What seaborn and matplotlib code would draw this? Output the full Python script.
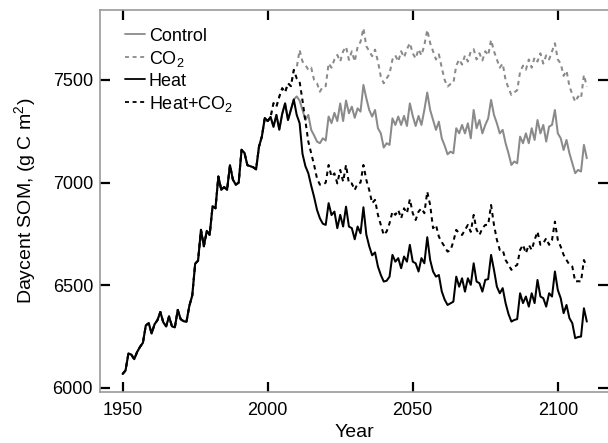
import matplotlib
matplotlib.use("Agg")
import matplotlib.pyplot as plt
import seaborn as sns
import pandas as pd
import numpy as np

# shared history 1950-2009 (all treatments)
hist_years = list(range(1950, 2010))
hist = [6068, 6085, 6168, 6162, 6140, 6175, 6200, 6220, 6305, 6315,
        6265, 6310, 6330, 6370, 6320, 6300, 6348, 6300, 6295, 6380,
        6335, 6325, 6322, 6400, 6450, 6605, 6620, 6770, 6690, 6765,
        6745, 6885, 6875, 7030, 6965, 6978, 6965, 7085, 7015, 6990,
        7000, 7160, 7145, 7085, 7080, 7075, 7065, 7175, 7225, 7315,
        7300, 7320, 7272, 7330, 7258, 7335, 7386, 7305, 7355, 7405]
# elevated CO2 history 2002-2009 (CO2 and Heat+CO2 share it)
co2_hist = [7387, 7370, 7419, 7460, 7440, 7484, 7470, 7549]

# 2010-2110
fut_years = list(range(2010, 2111))
control = [7420, 7400, 7354, 7305, 7330, 7257, 7230, 7200, 7192, 7216,
           7205, 7322, 7290, 7340, 7300, 7386, 7300, 7400, 7338, 7370,
           7316, 7362, 7346, 7476, 7411, 7354, 7322, 7354, 7265, 7240,
           7171, 7192, 7184, 7313, 7281, 7322, 7281, 7325, 7276, 7386,
           7325, 7276, 7325, 7281, 7354, 7439, 7354, 7305, 7257, 7297,
           7216, 7180, 7138, 7151, 7143, 7265, 7240, 7281, 7240, 7289,
           7216, 7354, 7265, 7305, 7240, 7281, 7313, 7403, 7330, 7289,
           7240, 7257, 7192, 7143, 7086, 7103, 7094, 7224, 7192, 7240,
           7192, 7265, 7208, 7305, 7240, 7281, 7200, 7273, 7281, 7354,
           7240, 7216, 7159, 7208, 7143, 7094, 7046, 7062, 7054, 7184,
           7119]
co2 = [7560, 7646, 7590, 7574, 7549, 7560, 7500, 7484, 7443, 7468,
       7470, 7581, 7560, 7600, 7622, 7590, 7640, 7662, 7598, 7640,
       7590, 7662, 7686, 7752, 7665, 7640, 7616, 7648, 7590, 7516,
       7484, 7508, 7530, 7600, 7620, 7590, 7640, 7610, 7650, 7680,
       7630, 7605, 7650, 7620, 7670, 7744, 7680, 7640, 7600, 7625,
       7560, 7500, 7468, 7480, 7485, 7570, 7600, 7575, 7620, 7590,
       7640, 7650, 7600, 7630, 7595, 7640, 7620, 7695, 7640, 7600,
       7560, 7580, 7500, 7460, 7427, 7440, 7450, 7540, 7570, 7550,
       7600, 7560, 7610, 7590, 7630, 7580, 7620, 7600, 7640, 7679,
       7600, 7580, 7520, 7545, 7470, 7430, 7394, 7420, 7410, 7525,
       7468]
heat = [7330, 7290, 7140, 7080, 7046, 6985, 6930, 6867, 6826, 6800,
        6794, 6900, 6842, 6859, 6778, 6843, 6786, 6883, 6786, 6778,
        6724, 6786, 6753, 6880, 6747, 6690, 6646, 6660, 6591, 6550,
        6518, 6522, 6542, 6648, 6615, 6632, 6583, 6640, 6615, 6697,
        6615, 6607, 6567, 6632, 6607, 6734, 6623, 6567, 6542, 6550,
        6470, 6430, 6404, 6412, 6420, 6542, 6493, 6534, 6469, 6534,
        6502, 6607, 6518, 6510, 6469, 6526, 6530, 6648, 6575, 6493,
        6461, 6486, 6413, 6360, 6323, 6331, 6335, 6461, 6413, 6445,
        6396, 6461, 6413, 6526, 6445, 6437, 6396, 6461, 6445, 6567,
        6477, 6437, 6364, 6404, 6340, 6315, 6242, 6248, 6250, 6388,
        6323]
heat_co2 = [7508, 7492, 7400, 7300, 7200, 7143, 7086, 7020, 6990, 6989,
            7000, 7086, 7029, 7045, 6996, 7062, 7005, 7086, 6996, 6996,
            6964, 6996, 7000, 7086, 7013, 6964, 6900, 6916, 6843, 6794,
            6745, 6762, 6802, 6859, 6843, 6867, 6826, 6875, 6851, 6919,
            6851, 6818, 6859, 6875, 6851, 6956, 6891, 6778, 6794, 6737,
            6710, 6688, 6664, 6670, 6713, 6770, 6753, 6745, 6770, 6794,
            6760, 6843, 6770, 6745, 6778, 6794, 6794, 6891, 6794, 6721,
            6672, 6672, 6623, 6600, 6575, 6590, 6599, 6672, 6697, 6656,
            6697, 6672, 6721, 6761, 6697, 6705, 6729, 6697, 6720, 6810,
            6721, 6688, 6648, 6623, 6600, 6591, 6518, 6520, 6518, 6623,
            6591]

labels = ["Control", "CO$_2$", "Heat", "Heat+CO$_2$"]

years = hist_years + fut_years
series = {
    labels[0]: hist + control,
    labels[1]: hist[:52] + co2_hist + co2,
    labels[2]: hist + heat,
    labels[3]: hist[:52] + co2_hist + heat_co2,
}
df = pd.concat([pd.DataFrame({"Year": years, "SOM": v, "Treatment": k})
                for k, v in series.items()], ignore_index=True)

sns.set_style("ticks")
plt.rcParams["font.family"] = ["Liberation Sans", "DejaVu Sans"]
plt.rcParams["mathtext.fontset"] = "custom"
plt.rcParams["mathtext.rm"] = "Liberation Sans"
plt.rcParams["text.color"] = "black"
plt.rcParams["axes.labelcolor"] = "black"
plt.rcParams["xtick.labelcolor"] = "black"
plt.rcParams["ytick.labelcolor"] = "black"

grey = "#8a8a8a"
palette = {labels[0]: grey, labels[1]: grey, labels[2]: "black", labels[3]: "black"}
dashes = {labels[0]: "", labels[1]: (2.2, 2.0), labels[2]: "", labels[3]: (2.2, 2.0)}

fig = plt.figure(figsize=(6.08, 4.43), dpi=100)
ax = fig.add_axes([100 / 608, 1 - 392 / 443, 508 / 608, 382 / 443])
sns.lineplot(data=df, x="Year", y="SOM", hue="Treatment", style="Treatment",
             palette=palette, dashes=dashes, linewidth=1.45, ax=ax,
             hue_order=labels, style_order=labels)

ax.set_xlim(1942.2, 2117.3)
ax.set_ylim(5980, 7841)
ax.set_xticks([1950, 2000, 2050, 2100])
ax.set_yticks([6000, 6500, 7000, 7500])
ax.tick_params(direction="in", length=7, width=1.6, color="black",
               top=True, right=True, labelsize=13, pad=5)
ax.tick_params(axis="x", pad=7)
for s in ax.spines.values():
    s.set_color("#999999")
    s.set_linewidth(1.2)
ax.spines["right"].set_visible(False)

ax.set_xlabel("Year", fontsize=14, labelpad=4)
ax.set_ylabel("Daycent SOM, (g C m$^2$)", fontsize=14, labelpad=10)

leg = ax.legend(loc="upper left", frameon=False, fontsize=13, handlelength=1.1,
                handletextpad=0.2, labelspacing=0.22, borderaxespad=0.3,
                bbox_to_anchor=(0.025, 0.987))
for h in leg.get_lines():
    h.set_linewidth(1.3)

fig.savefig("out.png", dpi=100)
